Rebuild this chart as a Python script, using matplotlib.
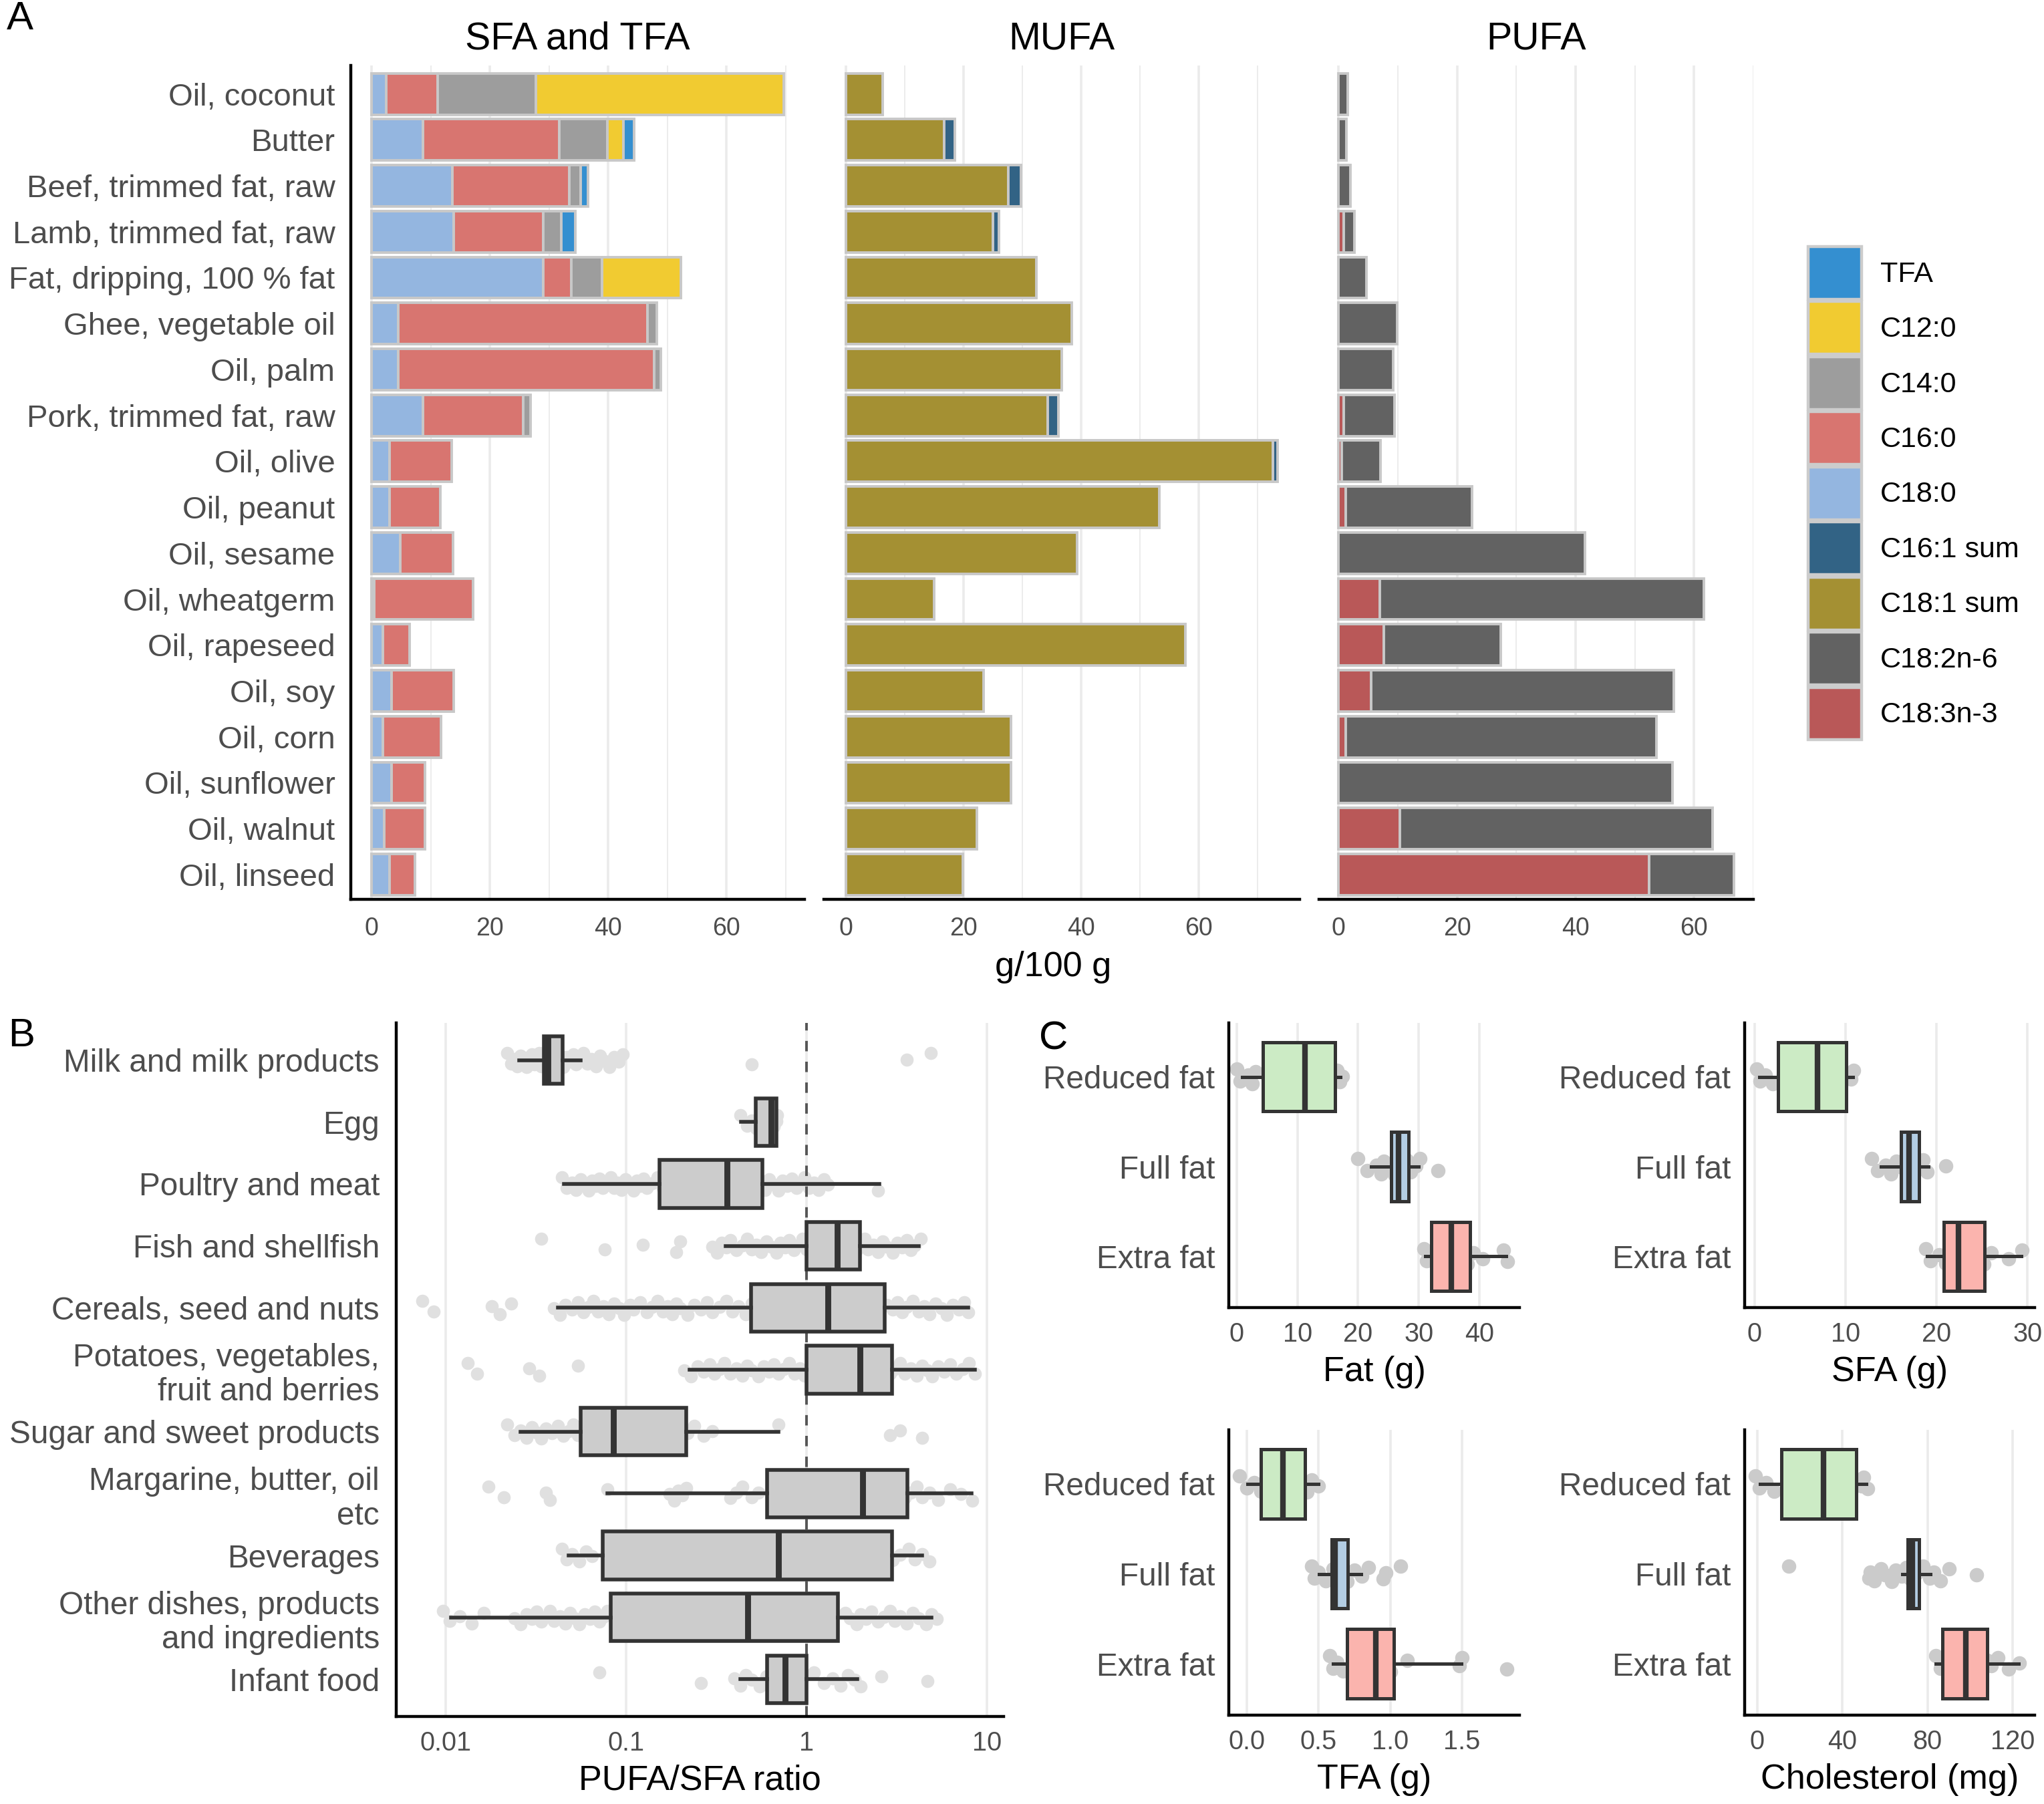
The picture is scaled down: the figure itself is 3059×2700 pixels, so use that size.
import numpy as np
import matplotlib
matplotlib.use("Agg")
import matplotlib.pyplot as plt
from matplotlib.patches import Patch

plt.rcParams['font.family'] = ['Liberation Sans', 'DejaVu Sans']

W, H = 3059, 2700

# ---------------- panel A data (g/100 g) ----------------
foods = ["Oil, coconut", "Butter", "Beef, trimmed fat, raw", "Lamb, trimmed fat, raw",
         "Fat, dripping, 100 % fat", "Ghee, vegetable oil", "Oil, palm",
         "Pork, trimmed fat, raw", "Oil, olive", "Oil, peanut", "Oil, sesame",
         "Oil, wheatgerm", "Oil, rapeseed", "Oil, soy", "Oil, corn", "Oil, sunflower",
         "Oil, walnut", "Oil, linseed"]

c180 = [2.5, 8.7, 13.7, 13.9, 29.0, 4.5, 4.5, 8.7, 3.0, 3.1, 4.9, 0.5, 1.9, 3.4, 1.9, 3.4, 2.2, 3.1]
c160 = [8.7, 23.1, 19.7, 15.1, 4.8, 42.1, 43.3, 16.9, 10.6, 8.5, 8.9, 16.7, 4.5, 10.5, 9.8, 5.6, 6.8, 4.3]
c140 = [16.6, 8.1, 2.0, 3.1, 5.2, 1.6, 1.1, 1.3, 0, 0, 0, 0, 0, 0, 0, 0, 0, 0]
c120 = [41.9, 2.7, 0, 0, 13.3, 0, 0, 0, 0, 0, 0, 0, 0, 0, 0, 0, 0, 0]
tfa = [0, 1.8, 1.2, 2.3, 0, 0, 0, 0, 0, 0, 0, 0, 0, 0, 0, 0, 0, 0]

c181 = [6.3, 16.7, 27.7, 25.0, 32.4, 38.4, 36.8, 34.4, 72.7, 53.3, 39.4, 15.0, 57.8, 23.4, 28.1, 28.1, 22.3, 19.9]
c161 = [0, 1.9, 2.1, 1.1, 0, 0, 0, 1.8, 0.8, 0, 0, 0, 0, 0, 0, 0, 0, 0]

c183 = [0, 0, 0, 0.9, 0, 0, 0, 0.9, 0.5, 1.2, 0, 7.0, 7.6, 5.5, 1.2, 0, 10.3, 52.4]
c182 = [1.6, 1.3, 2.0, 1.8, 4.7, 9.9, 9.2, 8.5, 6.6, 21.3, 41.6, 54.6, 19.8, 51.1, 52.4, 56.4, 52.8, 14.3]

fa_colors = {"TFA": "#348fd0", "C12:0": "#f1cb31", "C14:0": "#9d9d9d", "C16:0": "#d87570",
             "C18:0": "#94b6e0", "C16:1 sum": "#326385", "C18:1 sum": "#a49033",
             "C18:2n-6": "#626262", "C18:3n-3": "#b95858"}

# ---------------- panel B data (PUFA/SFA ratio) ----------------
b_groups = ["Milk and milk products", "Egg", "Poultry and meat", "Fish and shellfish",
            "Cereals, seed and nuts", "Potatoes, vegetables,\nfruit and berries",
            "Sugar and sweet products", "Margarine, butter, oil\netc", "Beverages",
            "Other dishes, products\nand ingredients", "Infant food"]
b_q1 = [0.035, 0.525, 0.154, 1.0, 0.495, 1.0, 0.056, 0.608, 0.0745, 0.082, 0.608]
b_med = [0.037, 0.64, 0.363, 1.48, 1.32, 1.99, 0.085, 2.05, 0.70, 0.472, 0.76]
b_q3 = [0.0446, 0.68, 0.569, 1.99, 2.73, 2.99, 0.215, 3.63, 2.99, 1.50, 1.0]
b_lo = [0.0256, 0.435, 0.0453, 0.357, 0.042, 0.226, 0.026, 0.079, 0.048, 0.0107, 0.43]
b_hi = [0.056, 0.68, 2.54, 4.21, 7.89, 8.57, 0.70, 8.22, 4.38, 4.95, 1.92]

b_points = [
    # milk and milk products
    [0.022, 0.023, 0.024, 0.025, 0.026, 0.027, 0.028, 0.029, 0.030, 0.030, 0.031, 0.032,
     0.033, 0.033, 0.034, 0.034, 0.035, 0.035, 0.036, 0.036, 0.037, 0.037, 0.038, 0.038,
     0.039, 0.040, 0.041, 0.042, 0.043, 0.044, 0.045, 0.047, 0.049, 0.051, 0.053, 0.055,
     0.058, 0.061, 0.064, 0.068, 0.072, 0.076, 0.081, 0.086, 0.091, 0.096, 0.50, 3.6, 4.9],
    # egg
    [0.43, 0.47, 0.50, 0.53, 0.55, 0.58, 0.60, 0.62, 0.63, 0.65, 0.66, 0.68, 0.69],
    # poultry and meat
    [0.044, 0.047, 0.050, 0.053, 0.056, 0.059, 0.062, 0.065, 0.068, 0.071, 0.074, 0.078,
     0.082, 0.086, 0.090, 0.094, 0.099, 0.104, 0.11, 0.115, 0.12, 0.125, 0.13, 0.14,
     0.15, 0.16, 0.18, 0.20, 0.22, 0.25, 0.28, 0.31, 0.34, 0.37, 0.40, 0.44, 0.48, 0.52,
     0.56, 0.59, 0.62, 0.66, 0.70, 0.74, 0.78, 0.83, 0.88, 0.93, 0.98, 1.04, 1.10, 1.17,
     1.25, 1.32, 2.5],
    # fish and shellfish
    [0.034, 0.076, 0.124, 0.19, 0.20, 0.30, 0.32, 0.34, 0.36, 0.38, 0.41, 0.44, 0.47,
     0.50, 0.53, 0.56, 0.60, 0.64, 0.68, 0.72, 0.76, 0.80, 0.85, 0.90, 0.95, 1.0, 1.1,
     1.2, 1.3, 1.4, 1.5, 1.6, 1.7, 1.8, 1.9, 2.0, 2.1, 2.2, 2.35, 2.5, 2.65, 2.8, 3.0,
     3.2, 3.4, 3.6, 3.8, 4.0, 4.3],
    # cereals, seed and nuts
    [0.0074, 0.0086, 0.018, 0.020, 0.023, 0.040, 0.043, 0.046, 0.050, 0.054, 0.058,
     0.062, 0.066, 0.070, 0.075, 0.080, 0.086, 0.092, 0.098, 0.105, 0.11, 0.12, 0.13,
     0.14, 0.15, 0.16, 0.17, 0.18, 0.19, 0.20, 0.22, 0.24, 0.26, 0.28, 0.30, 0.33, 0.36,
     0.39, 0.42, 0.46, 0.50, 0.56, 0.63, 0.70, 0.80, 0.90, 1.0, 1.12, 1.25, 1.4, 1.6,
     1.8, 2.0, 2.25, 2.5, 2.8, 3.0, 3.2, 3.4, 3.6, 3.9, 4.2, 4.5, 4.8, 5.2, 5.6, 6.0,
     6.5, 7.0, 7.5, 7.9],
    # potatoes, vegetables, fruit and berries
    [0.0133, 0.015, 0.029, 0.033, 0.054, 0.21, 0.23, 0.25, 0.27, 0.29, 0.31, 0.33, 0.35,
     0.38, 0.41, 0.44, 0.47, 0.50, 0.54, 0.58, 0.62, 0.66, 0.70, 0.75, 0.80, 0.86, 0.92,
     0.98, 1.1, 1.3, 1.5, 1.8, 2.1, 2.5, 2.9, 3.1, 3.3, 3.5, 3.8, 4.1, 4.4, 4.7, 5.0,
     5.4, 5.8, 6.3, 6.8, 7.4, 8.0, 8.6],
    # sugar and sweet products
    [0.022, 0.024, 0.026, 0.028, 0.030, 0.032, 0.034, 0.036, 0.039, 0.042, 0.045, 0.048,
     0.051, 0.054, 0.058, 0.062, 0.066, 0.070, 0.075, 0.080, 0.085, 0.090, 0.096, 0.102,
     0.11, 0.12, 0.13, 0.14, 0.15, 0.165, 0.18, 0.20, 0.22, 0.24, 0.27, 0.30, 0.70,
     2.9, 3.3, 4.4],
    # margarine, butter, oil etc
    [0.0173, 0.021, 0.036, 0.038, 0.079, 0.174, 0.185, 0.195, 0.205, 0.215, 0.38, 0.41,
     0.44, 0.50, 0.54, 0.75, 0.9, 1.1, 1.4, 1.8, 2.2, 2.8, 3.5, 3.8, 4.1, 4.4, 4.8,
     5.4, 6.3, 7.2, 8.3],
    # beverages
    [0.044, 0.047, 0.050, 0.055, 0.060, 0.065, 0.12, 0.3, 0.9, 2.0, 3.0, 3.3, 3.7, 4.0,
     4.4, 4.8],
    # other dishes, products and ingredients
    [0.0097, 0.0105, 0.012, 0.014, 0.0163, 0.024, 0.026, 0.028, 0.030, 0.032, 0.034,
     0.036, 0.038, 0.040, 0.043, 0.046, 0.049, 0.052, 0.055, 0.059, 0.063, 0.067, 0.071,
     0.075, 0.079, 0.2, 0.5, 1.0, 1.65, 1.75, 1.9, 2.0, 2.15, 2.3, 2.5, 2.7, 2.9, 3.1,
     3.3, 3.6, 3.9, 4.2, 4.6, 4.95, 5.3],
    # infant food
    [0.071, 0.26, 0.40, 0.43, 0.46, 0.5, 0.55, 0.6, 0.68, 0.75, 0.85, 0.95, 1.1, 1.25,
     1.4, 1.55, 1.7, 1.85, 2.0, 2.6, 4.7],
]

# ---------------- panel C data ----------------
c_groups = ["Reduced fat", "Full fat", "Extra fat"]
c_fill = ["#ccebc5", "#b3cde3", "#fbb4ae"]

fat_q1 = [4.3, 25.5, 32.1]
fat_med = [11.3, 26.7, 35.4]
fat_q3 = [16.2, 28.3, 38.4]
fat_lo = [0.9, 22.1, 31.1]
fat_hi = [17.1, 30.0, 44.4]
fat_pts = [[0.0, 0.6, 1.9, 2.5, 3.1, 7.0, 10.0, 13.0, 15.9, 16.5, 17.0, 17.4],
           [20.0, 21.5, 23.0, 23.8, 24.3, 25.0, 26.0, 26.5, 27.3, 28.0, 28.7, 29.5, 30.2, 33.2],
           [30.9, 31.3, 32.0, 33.0, 34.5, 36.0, 38.0, 39.0, 40.5, 44.0, 44.6]]

sfa_q1 = [2.6, 16.1, 20.8]
sfa_med = [6.9, 17.0, 22.4]
sfa_q3 = [10.1, 18.1, 25.3]
sfa_lo = [0.5, 13.9, 19.0]
sfa_hi = [10.8, 19.1, 29.3]
sfa_pts = [[0.2, 0.6, 1.2, 2.0, 4.0, 6.0, 8.0, 10.2, 10.6, 10.9],
           [12.9, 13.5, 14.4, 15.0, 15.6, 16.2, 16.8, 17.4, 18.0, 18.5, 19.0, 21.0],
           [18.8, 19.3, 20.3, 21.0, 22.5, 24.0, 25.2, 26.0, 27.9, 29.4]]

tfa_q1 = [0.097, 0.593, 0.699]
tfa_med = [0.25, 0.616, 0.898]
tfa_q3 = [0.407, 0.704, 1.023]
tfa_lo = [0.005, 0.505, 0.60]
tfa_hi = [0.5, 0.796, 1.495]
tfa_pts = [[-0.05, 0.0, 0.05, 0.1, 0.18, 0.3, 0.42, 0.45, 0.5],
           [0.45, 0.47, 0.5, 0.55, 0.6, 0.65, 0.7, 0.75, 0.8, 0.85, 0.95, 0.97, 1.07],
           [0.58, 0.6, 0.63, 0.67, 0.75, 0.9, 1.0, 1.12, 1.48, 1.5, 1.81]]

chol_q1 = [11.4, 70.7, 87.0]
chol_med = [31.2, 72.8, 98.1]
chol_q3 = [46.6, 75.9, 108.0]
chol_lo = [1.2, 68.2, 84.0]
chol_hi = [51.2, 81.5, 122.8]
chol_pts = [[-1, 1, 4, 8, 20, 35, 44, 47, 49, 50, 52],
            [14.8, 52.5, 53, 55, 58, 60, 63, 65, 68, 70, 72, 75, 78, 81, 83, 86, 90, 103],
            [84, 86, 88, 92, 96, 100, 104, 108, 110, 113, 118, 123]]

# vertical jitter pattern for the dots (position only)
JIT = [-0.11, 0.06, -0.02, 0.10, -0.07, 0.01, 0.11, -0.05, 0.03, -0.09, 0.07, -0.01]

TICK_COL = "#4d4d4d"
GRID_COL = "#ebebeb"
EDGE = "#333333"


def rect(x0, y0, x1, y1):
    return [x0 / W, 1 - y1 / H, (x1 - x0) / W, (y1 - y0) / H]


def base_style(ax, left=True):
    for s in ["top", "right"]:
        ax.spines[s].set_visible(False)
    ax.spines["left"].set_visible(left)
    ax.spines["bottom"].set_linewidth(1.6)
    ax.spines["left"].set_linewidth(1.6)
    ax.tick_params(length=0, colors=TICK_COL)
    ax.set_axisbelow(True)


fig = plt.figure(figsize=(W / 200, H / 200), dpi=200)

# ================= panel A =================
ypos = np.arange(len(foods))
bar_kw = dict(height=0.9, edgecolor="#c8c8c8", linewidth=1.4)


def stack(ax, series, names):
    left = np.zeros(len(foods))
    for vals, name in zip(series, names):
        vals = np.array(vals, dtype=float)
        m = vals > 0
        ax.barh(ypos[m], vals[m], left=left[m], color=fa_colors[name], **bar_kw)
        left += vals


a_specs = [
    ("SFA and TFA", rect(525, 98, 1204, 1346), [c180, c160, c140, c120, tfa],
     ["C18:0", "C16:0", "C14:0", "C12:0", "TFA"], (-3.5, 73.2)),
    ("MUFA", rect(1233, 98, 1945, 1346), [c181, c161],
     ["C18:1 sum", "C16:1 sum"], (-3.7, 77.2)),
    ("PUFA", rect(1974, 98, 2624, 1346), [c183, c182],
     ["C18:3n-3", "C18:2n-6"], (-3.3, 70.0)),
]

a_axes = []
for k, (title, r, series, names, xl) in enumerate(a_specs):
    ax = fig.add_axes(r)
    base_style(ax, left=(k == 0))
    stack(ax, series, names)
    ax.set_xlim(*xl)
    ax.set_ylim(17.54, -0.62)
    ax.set_xticks([0, 20, 40, 60])
    ax.set_xticks([10, 30, 50, 70], minor=True)
    ax.tick_params(axis="x", which="both", length=0, labelsize=13.5, pad=9.5)
    ax.grid(axis="x", which="major", color=GRID_COL, lw=1.3)
    ax.grid(axis="x", which="minor", color=GRID_COL, lw=0.65)
    ax.set_yticks(ypos)
    if k == 0:
        ax.set_yticklabels(foods, fontsize=17)
        ax.tick_params(axis="y", pad=8.5)
    else:
        ax.set_yticklabels([])
    ax.set_title(title, fontsize=20.6, pad=9)
    a_axes.append(ax)

a_axes[1].set_xlabel("g/100 g", fontsize=18.8, va="center")
a_axes[1].xaxis.set_label_coords(0.482, -0.0817)

leg_names = ["TFA", "C12:0", "C14:0", "C16:0", "C18:0", "C16:1 sum", "C18:1 sum",
             "C18:2n-6", "C18:3n-3"]
handles = [Patch(facecolor=fa_colors[n], edgecolor="#cccccc", linewidth=1.6) for n in leg_names]
fig.legend(handles, leg_names, loc="upper left", bbox_to_anchor=(2706 / W, 1 - 369 / H),
           frameon=False, fontsize=15.5, handlelength=1.86, handleheight=2.44,
           labelspacing=0.084, handletextpad=0.65, borderpad=0, borderaxespad=0)

# ================= panel B =================
axb = fig.add_axes(rect(593, 1531, 1502, 2569))
base_style(axb)
axb.set_xscale("log")
axb.set_xlim(10 ** -2.274, 10 ** 1.094)
axb.set_ylim(10.6, -0.6)
for i, vals in enumerate(b_points):
    yj = i + np.resize(JIT, len(vals))
    axb.scatter(vals, yj, s=50, color="#e0e0e0", linewidths=0, zorder=1)
b_stats = [dict(q1=a, med=b, q3=c, whislo=d, whishi=e)
           for a, b, c, d, e in zip(b_q1, b_med, b_q3, b_lo, b_hi)]
axb.bxp(b_stats, positions=range(len(b_groups)), widths=0.77, orientation="horizontal",
        patch_artist=True, showfliers=False, showcaps=False, manage_ticks=False,
        boxprops=dict(facecolor="#cccccc", edgecolor=EDGE, linewidth=2.0),
        medianprops=dict(color=EDGE, linewidth=3.2),
        whiskerprops=dict(color=EDGE, linewidth=2.0), zorder=3)
axb.axvline(1, color="#555555", lw=1.4, ls=(0, (4, 4)), zorder=2)
axb.set_xticks([0.01, 0.1, 1, 10])
axb.set_xticklabels(["0.01", "0.1", "1", "10"])
axb.xaxis.set_minor_locator(matplotlib.ticker.NullLocator())
axb.grid(axis="x", which="major", color=GRID_COL, lw=1.3)
axb.tick_params(axis="x", labelsize=14.3, pad=7.5)
axb.set_yticks(range(len(b_groups)))
axb.set_yticklabels(b_groups, fontsize=17.2, linespacing=1.18)
axb.tick_params(axis="y", pad=9)
axb.set_xlabel("PUFA/SFA ratio", fontsize=18.8, va="center")
axb.xaxis.set_label_coords(0.5, -0.0925)

# ================= panel C =================
c_specs = [
    (rect(1839, 1531, 2274, 1957), fat_q1, fat_med, fat_q3, fat_lo, fat_hi, fat_pts,
     (-1.3, 46.6), [0, 10, 20, 30, 40], ["0", "10", "20", "30", "40"], "Fat (g)"),
    (rect(2611, 1531, 3045, 1957), sfa_q1, sfa_med, sfa_q3, sfa_lo, sfa_hi, sfa_pts,
     (-1.1, 30.8), [0, 10, 20, 30], ["0", "10", "20", "30"], "SFA (g)"),
    (rect(1839, 2140, 2274, 2567), tfa_q1, tfa_med, tfa_q3, tfa_lo, tfa_hi, tfa_pts,
     (-0.125, 1.9), [0, 0.5, 1.0, 1.5], ["0.0", "0.5", "1.0", "1.5"], "TFA (g)"),
    (rect(2611, 2140, 3045, 2567), chol_q1, chol_med, chol_q3, chol_lo, chol_hi, chol_pts,
     (-5.9, 130.3), [0, 40, 80, 120], ["0", "40", "80", "120"], "Cholesterol (mg)"),
]

for r, q1, med, q3, lo, hi, pts, xl, xt, xtl, xlab in c_specs:
    ax = fig.add_axes(r)
    base_style(ax)
    for i, vals in enumerate(pts):
        yj = i + np.resize(JIT, len(vals)) * 0.8
        ax.scatter(vals, yj, s=60, color="#cbcbcb", linewidths=0, zorder=1)
    stats = [dict(q1=a, med=b, q3=c, whislo=d, whishi=e)
             for a, b, c, d, e in zip(q1, med, q3, lo, hi)]
    bp = ax.bxp(stats, positions=range(3), widths=0.77, orientation="horizontal",
                patch_artist=True, showfliers=False, showcaps=False, manage_ticks=False,
                boxprops=dict(edgecolor=EDGE, linewidth=1.8),
                medianprops=dict(color=EDGE, linewidth=3.0),
                whiskerprops=dict(color=EDGE, linewidth=1.8), zorder=3)
    for box, col in zip(bp["boxes"], c_fill):
        box.set_facecolor(col)
    ax.set_xlim(*xl)
    ax.set_ylim(2.57, -0.6)
    ax.set_xticks(xt)
    ax.set_xticklabels(xtl)
    ax.grid(axis="x", which="major", color=GRID_COL, lw=1.3)
    ax.tick_params(axis="x", labelsize=14.3, pad=7.5)
    ax.set_yticks(range(3))
    ax.set_yticklabels(c_groups, fontsize=17.2)
    ax.tick_params(axis="y", pad=7.5)
    ax.set_xlabel(xlab, fontsize=18.8, va="center")
    ax.xaxis.set_label_coords(0.5, -0.226)

# panel letters
fig.text(10 / W, 1 - 29 / H, "A", fontsize=21.6, ha="left", va="center")
fig.text(12 / W, 1 - 1551 / H, "B", fontsize=21.6, ha="left", va="center")
fig.text(1555 / W, 1 - 1555 / H, "C", fontsize=21.6, ha="left", va="center")

fig.savefig("out.png", dpi=200, facecolor="white")
